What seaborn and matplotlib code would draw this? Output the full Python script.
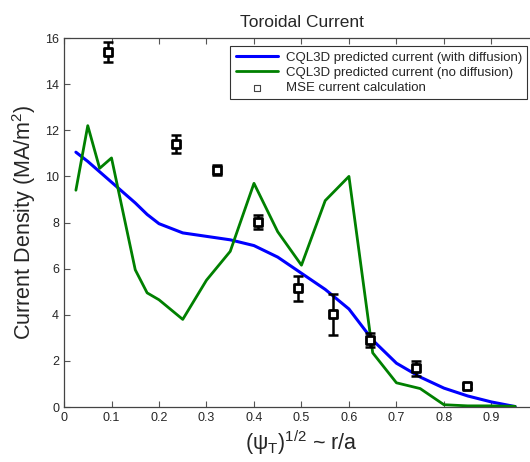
import numpy as np
import pandas as pd
import seaborn as sns
import matplotlib as mpl
import matplotlib.pyplot as plt

sns.set_style("ticks")
mpl.rcParams["font.family"] = ["Liberation Sans", "DejaVu Sans"]
mpl.rcParams["mathtext.fontset"] = "custom"
mpl.rcParams["mathtext.rm"] = "Liberation Sans"
mpl.rcParams["mathtext.it"] = "Liberation Sans"

# CQL3D with diffusion
r_diff = [0.025, 0.05, 0.1, 0.15, 0.175, 0.2, 0.25, 0.3, 0.35, 0.4, 0.45, 0.5,
          0.55, 0.6, 0.65, 0.7, 0.75, 0.8, 0.85, 0.9, 0.95]
j_diff = [11.05, 10.65, 9.75, 8.85, 8.35, 7.95, 7.55, 7.4, 7.25, 7.0, 6.5, 5.8,
          5.1, 4.25, 2.9, 1.9, 1.3, 0.82, 0.48, 0.22, 0.02]

# CQL3D without diffusion
r_nodiff = [0.025, 0.05, 0.075, 0.1, 0.15, 0.175, 0.2, 0.25, 0.3, 0.35, 0.4,
            0.45, 0.5, 0.55, 0.6, 0.65, 0.7, 0.75, 0.8, 0.85, 0.9, 0.95]
j_nodiff = [9.4, 12.2, 10.35, 10.8, 5.95, 4.95, 4.65, 3.8, 5.5, 6.75, 9.7,
            7.6, 6.15, 8.95, 10.0, 2.35, 1.05, 0.8, 0.1, 0.05, 0.05, 0.03]

# MSE current calculation
r_mse = [0.093, 0.235, 0.323, 0.408, 0.492, 0.566, 0.644, 0.742, 0.849]
j_mse = [15.4, 11.42, 10.28, 8.02, 5.15, 4.03, 2.9, 1.68, 0.92]
j_err = [0.42, 0.39, 0.23, 0.3, 0.55, 0.89, 0.29, 0.33, 0.08]

df_diff = pd.DataFrame({"r": r_diff, "j": j_diff})
df_nodiff = pd.DataFrame({"r": r_nodiff, "j": j_nodiff})

fig = plt.figure(figsize=(5.3, 4.62), dpi=100)
ax = fig.add_axes([0.1208, 0.119, 0.896, 0.7987])

sns.lineplot(ax=ax, data=df_diff, x="r", y="j", color="#0000ff", lw=2.2,
             label="CQL3D predicted current (with diffusion)")
sns.lineplot(ax=ax, data=df_nodiff, x="r", y="j", color="#008000", lw=2.0,
             label="CQL3D predicted current (no diffusion)")
ax.errorbar(r_mse, j_mse, yerr=j_err, fmt="none", ecolor="black", elinewidth=1.8,
            capsize=3.5, capthick=1.8)
sns.scatterplot(ax=ax, x=r_mse, y=j_mse, marker="s", s=30, facecolor="white",
                edgecolor="black", linewidth=2.0, zorder=5,
                label="MSE current calculation")

ax.set_xlim(0, 1)
ax.set_ylim(0, 16)
ax.set_xticks(np.arange(0, 1.0, 0.1))
ax.set_xticklabels(["0", "0.1", "0.2", "0.3", "0.4", "0.5", "0.6", "0.7", "0.8", "0.9"])
ax.set_yticks(range(0, 17, 2))
ax.tick_params(direction="in", top=True, right=True, labelsize=9, length=4,
               width=0.8, color="#555555")
for s in ax.spines.values():
    s.set_color("#444444")
    s.set_linewidth(0.9)

ax.set_title("Toroidal Current", fontsize=12.5, pad=8)
ax.set_ylabel("Current Density (MA/m$^2$)", fontsize=15.5, labelpad=5)
ax.set_xlabel(r"$(\psi_T)^{1/2}$ ~ r/a", fontsize=15.5, labelpad=3)

leg = ax.legend(loc="upper left", bbox_to_anchor=(0.345, 0.985), fontsize=9.5,
                frameon=True, fancybox=False, borderpad=0.4, handlelength=3.2,
                labelspacing=0.22, handletextpad=0.6, borderaxespad=0.2)
leg.get_frame().set_edgecolor("black")
leg.get_frame().set_linewidth(0.8)
for h in leg.legend_handles[2:]:
    h.set_sizes([14])
    h.set_linewidth(0.8)
    h.set_edgecolor("#444444")

fig.savefig("out.png", dpi=100)
